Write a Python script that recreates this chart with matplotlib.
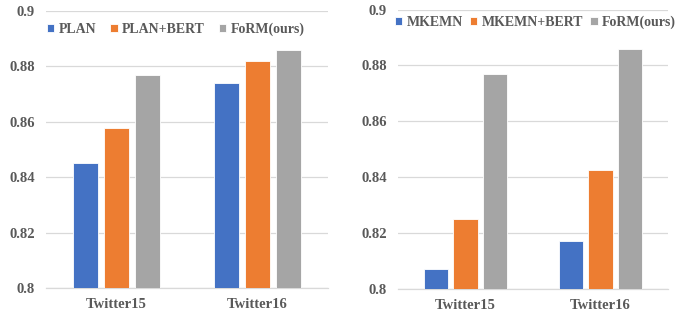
import numpy as np
import matplotlib.pyplot as plt

# data
datasets = ['Twitter15', 'Twitter16']
left_labels = ['PLAN', 'PLAN+BERT', 'FoRM(ours)']
left_values = [[0.845, 0.874], [0.8578, 0.882], [0.877, 0.886]]
right_labels = ['MKEMN', 'MKEMN+BERT', 'FoRM(ours)']
right_values = [[0.807, 0.817], [0.825, 0.8425], [0.877, 0.886]]
yticks = [0.8, 0.82, 0.84, 0.86, 0.88, 0.9]
ytick_labels = ['0.8', '0.82', '0.84', '0.86', '0.88', '0.9']

colors = ['#4472C4', '#ED7D31', '#A5A5A5']
text_color = '#595959'
grid_color = '#D9D9D9'

plt.rcParams['font.family'] = 'Liberation Serif'
plt.rcParams['font.weight'] = 'bold'
plt.rcParams['font.size'] = 10.5

fig = plt.figure(figsize=(6.97, 3.16), dpi=100)
ax1 = fig.add_axes([0.066, 0.0886, 0.4046, 0.8766])
ax2 = fig.add_axes([0.571, 0.0854, 0.3874, 0.8845])


def draw(ax, labels, values, legend_xy, colspace):
    x = np.arange(len(datasets))
    step = 0.22
    for i, (lab, vals) in enumerate(zip(labels, values)):
        ax.bar(x + (i - 1) * step, vals, width=0.18, color=colors[i],
               edgecolor='white', linewidth=0.6, label=lab, zorder=3)
    ax.set_xlim(-0.5, 1.5)
    ax.set_ylim(0.8, 0.9)
    ax.set_yticks(yticks)
    ax.set_yticklabels(ytick_labels)
    ax.set_xticks(x)
    ax.set_xticklabels(datasets)
    ax.tick_params(axis='both', length=0, colors=text_color, labelsize=10.5)
    ax.tick_params(axis='y', pad=8)
    ax.tick_params(axis='x', pad=7)
    ax.grid(axis='y', color=grid_color, linewidth=0.9, zorder=0)
    for s in ['top', 'right', 'left']:
        ax.spines[s].set_visible(False)
    ax.spines['bottom'].set_color(grid_color)
    ax.spines['bottom'].set_linewidth(0.9)
    handles, labs = ax.get_legend_handles_labels()
    fig.legend(handles, labs, ncol=3, loc='center', bbox_to_anchor=legend_xy,
               frameon=False, handlelength=0.55, handleheight=0.55,
               handletextpad=0.3, columnspacing=colspace, labelcolor=text_color,
               fontsize=10, borderaxespad=0, borderpad=0)


draw(ax1, left_labels, left_values, (0.252, 0.908), 1.0)
draw(ax2, right_labels, right_values, (0.768, 0.930), 0.5)

plt.savefig('out.png', dpi=100)
